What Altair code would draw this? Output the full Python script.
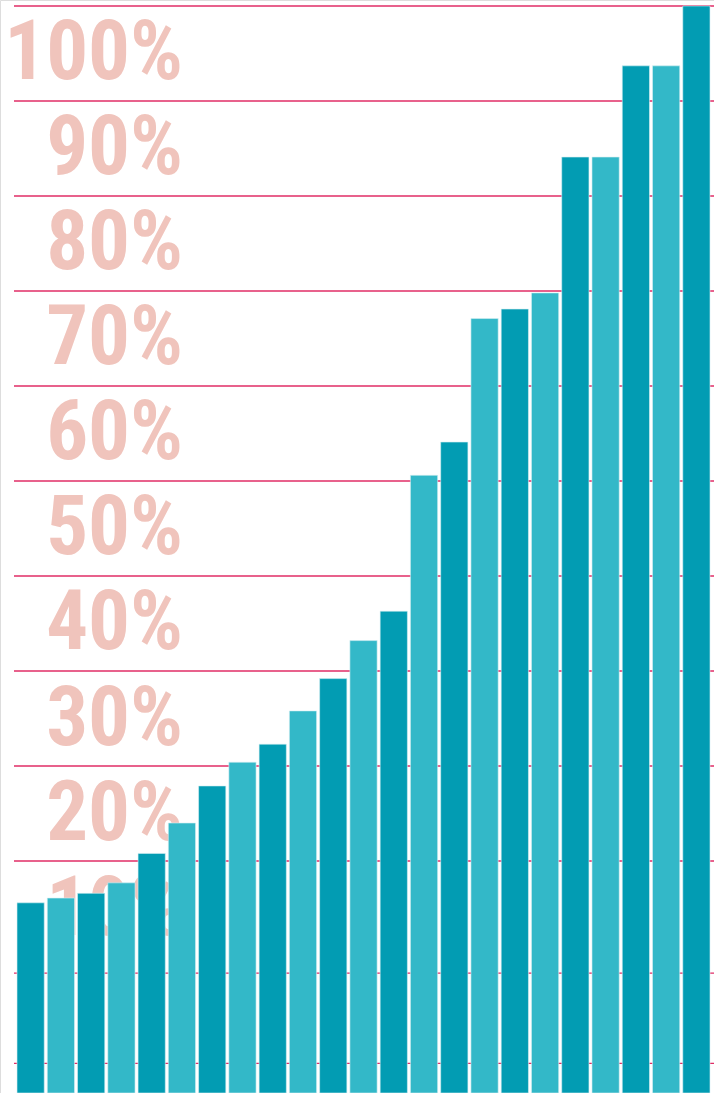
import altair as alt
import pandas as pd

values = [5.6, 6.1, 6.6, 7.7, 10.8, 14.0, 17.9, 20.4, 22.3, 25.8, 29.2, 33.2, 36.3,
          50.6, 54.1, 67.1, 68.1, 69.8, 84.1, 84.1, 93.7, 93.7, 100.0]
shades = ["dark", "light"] * 11 + ["dark"]
labels = ["100%", "90%", "80%", "70%", "60%", "50%", "40%", "30%", "20%", "10%"]
label_pos = [95, 85, 75, 65, 55, 45, 35, 25, 15, 5]
grid_vals = [100, 90, 80, 70, 60, 50, 40, 30, 20, 10, -1.8, -11.3]

Y_MIN = -14.42
Y_MAX = 100.63

bars = pd.DataFrame({
    "idx": list(range(1, len(values) + 1)),
    "value": values,
    "shade": shades,
    "base": [Y_MIN] * len(values),
})
lab = pd.DataFrame({"label": labels, "pos": label_pos})
grid = pd.DataFrame({"g": grid_vals})

yscale = alt.Scale(domain=[Y_MIN, Y_MAX], nice=False, zero=False)

text_layer = alt.Chart(lab).mark_text(
    align="right", baseline="middle", dy=1,
    font="Roboto Condensed, Liberation Sans Narrow, Roboto, sans-serif",
    fontWeight="bold", fontSize=83, color="#f0c4bc"
).encode(
    x=alt.value(183),
    y=alt.Y("pos:Q", scale=yscale, axis=None),
    text="label:N",
)

grid_layer = alt.Chart(grid).mark_rule(color="#e02d66", strokeWidth=1.3).encode(
    x=alt.value(14), x2=alt.value(714),
    y=alt.Y("g:Q", scale=yscale, axis=None),
)

bar_layer = alt.Chart(bars).mark_bar(stroke="#d8f0f3", strokeWidth=0.6).encode(
    x=alt.X("idx:O", axis=None,
            scale=alt.Scale(paddingInner=0.1, paddingOuter=0.347, align=0.81)),
    y=alt.Y("value:Q", scale=yscale, axis=None),
    y2="base:Q",
    color=alt.Color("shade:N", legend=None,
                    scale=alt.Scale(domain=["dark", "light"], range=["#029cb3", "#33b8c8"])),
)

chart = alt.layer(text_layer, grid_layer, bar_layer).properties(
    width=714, height=1093, padding=0, autosize=alt.AutoSizeParams(type="none")
).configure_view(stroke=None).configure(background="white")

chart.save("out.html", embed_options={"renderer": "svg", "actions": False})
